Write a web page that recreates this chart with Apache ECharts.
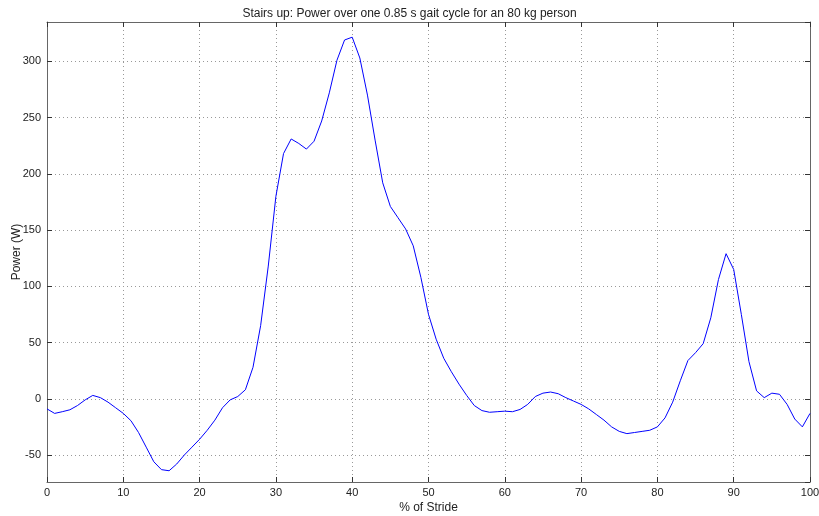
<!DOCTYPE html>
<html>
<head>
<meta charset="utf-8">
<script src="https://cdn.jsdelivr.net/npm/echarts@6/dist/echarts.min.js"></script>
<style>
  html, body { margin: 0; padding: 0; background: #fff; }
  #chartDom { width: 819px; height: 516px; }
</style>
</head>
<body>
<div id="chartDom"></div>
<script>
// % of stride, 0..100 step 1
const stride = Array.from({length: 101}, (_, i) => i)
// power in W
const power = [
  -9, -13, -11.5, -9.8, -6, -1, 3, 1, -3, -8,
  -13, -19.5, -30, -43, -56, -63, -64, -58, -50, -43,
  -36, -28, -19, -8, -1, 2, 8, 28, 65, 118,
  180, 218, 231, 227, 222, 229, 247, 272, 301, 319,
  321.5, 303, 270, 230, 192, 171, 161, 151, 136, 108,
  75, 53, 36, 24, 13, 3, -6, -10.5, -12, -11.5,
  -11, -11.5, -9.5, -5, 2, 5, 6, 4.5, 1, -2,
  -5, -9, -14, -19, -25, -29, -31, -30, -29, -28,
  -25, -17, -3, 16, 34, 41, 49, 72, 106, 129,
  115, 75, 33, 7, 1, 5, 4, -5, -18, -25,
  -13
]
const xTicks = [0, 10, 20, 30, 40, 50, 60, 70, 80, 90, 100]
const yTicks = [-50, 0, 50, 100, 150, 200, 250, 300]

const font = 'Liberation Sans'
const gridLine = {show: true, lineStyle: {color: '#999', type: [1, 3], width: 1}}
const boxLine = {show: true, onZero: false, lineStyle: {color: '#666', width: 1}}

const chart = echarts.init(document.getElementById('chartDom'))
chart.setOption({
  animation: false,
  title: {
    text: 'Stairs up: Power over one 0.85 s gait cycle for an 80 kg person',
    left: 'center',
    top: 3,
    textStyle: {fontFamily: font, fontSize: 12, fontWeight: 'normal', color: '#222'}
  },
  grid: {left: 47, right: 9, top: 22, bottom: 34, outerBoundsMode: 'none', containLabel: false},
  xAxis: [{
    type: 'value',
    min: 0,
    max: 100,
    interval: 10,
    name: '% of Stride',
    nameLocation: 'middle',
    nameGap: 20,
    nameMoveOverlap: false,
    nameTextStyle: {fontFamily: font, fontSize: 12, color: '#222'},
    axisLine: boxLine,
    axisTick: {show: true, inside: true, length: 5, lineStyle: {color: '#333'}},
    axisLabel: {fontFamily: font, fontSize: 11, color: '#222', margin: 5,
      formatter: v => xTicks.includes(v) ? String(v) : ''},
    splitLine: gridLine
  }, {
    // top edge of the box
    type: 'value', position: 'top', min: 0, max: 100, interval: 10,
    axisLine: boxLine,
    axisTick: {show: true, inside: true, length: 5, lineStyle: {color: '#333'}},
    axisLabel: {show: false},
    splitLine: {show: false}
  }],
  yAxis: [{
    type: 'value',
    min: -74,
    max: 335,
    splitNumber: 8,
    minInterval: 50,
    maxInterval: 50,
    name: 'Power (W)',
    nameLocation: 'middle',
    nameGap: 24,
    nameMoveOverlap: false,
    nameTextStyle: {fontFamily: font, fontSize: 12, color: '#222'},
    axisLine: boxLine,
    axisTick: {show: true, inside: true, length: 5, lineStyle: {color: '#333'}},
    axisLabel: {fontFamily: font, fontSize: 11, color: '#222', margin: 6,
      showMinLabel: false, showMaxLabel: false,
      formatter: v => yTicks.includes(v) ? String(v) : ''},
    splitLine: gridLine
  }, {
    // right edge of the box
    type: 'value', position: 'right', min: -74, max: 335,
    splitNumber: 8, minInterval: 50, maxInterval: 50,
    axisLine: boxLine,
    axisTick: {show: true, inside: true, length: 5, lineStyle: {color: '#333'}},
    axisLabel: {show: false},
    splitLine: {show: false}
  }],
  series: [{
    name: 'Power',
    type: 'line',
    data: stride.map((x, i) => [x, power[i]]),
    symbol: 'none',
    smooth: false,
    lineStyle: {color: '#0000ff', width: 1}
  }]
})
</script>
</body>
</html>
